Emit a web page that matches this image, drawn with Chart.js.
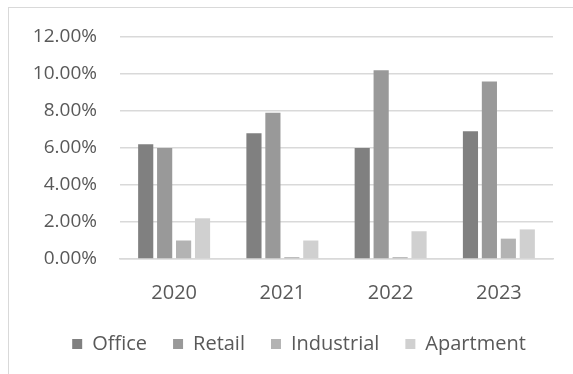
<!DOCTYPE html>
<html>
<head>
<meta charset="utf-8">
<script src="https://cdn.jsdelivr.net/npm/chart.js@4/dist/chart.umd.min.js"></script>
<style>
  html, body { margin: 0; padding: 0; background: #ffffff; }
  #frame {
    position: absolute; left: 8px; top: 7px; width: 565px; height: 367px;
    border-top: 1px solid #d9d9d9; border-left: 1px solid #d9d9d9;
    box-sizing: border-box;
  }
  #wrap { position: absolute; left: 0; top: 0; right: 0; bottom: 0; }
</style>
</head>
<body>
<div id="frame"><div id="wrap"><canvas id="chart"></canvas></div></div>
<script>
// Vacancy rates by property type, per year (percent)
const years = ['2020', '2021', '2022', '2023'];
const office = [6.2, 6.8, 6.0, 6.9];
const retail = [6.0, 7.9, 10.2, 9.6];
const industrial = [1.0, 0.1, 0.1, 1.1];
const apartment = [2.2, 1.0, 1.5, 1.6];
const seriesNames = ['Office', 'Retail', 'Industrial', 'Apartment'];
const seriesColors = ['#808080', '#999999', '#b3b3b3', '#d0d0d0'];

const values = [office, retail, industrial, apartment];
const textColor = '#595959';
const fontFamily = '"Open Sans", "Noto Sans", sans-serif';

// Nudge the legend row to the right so it sits centred under the whole frame
const legendShift = {
  id: 'legendShift',
  afterLayout(chart) {
    const lg = chart.legend;
    if (lg) { lg.left += 18; lg.right += 18; }
  }
};

new Chart(document.getElementById('chart'), {
  type: 'bar',
  data: {
    labels: years,
    datasets: values.map((v, i) => ({
      label: seriesNames[i],
      data: v,
      backgroundColor: seriesColors[i],
      borderWidth: 0,
      categoryPercentage: 0.7,
      barPercentage: 0.8
    }))
  },
  plugins: [legendShift],
  options: {
    responsive: true,
    maintainAspectRatio: false,
    animation: false,
    layout: {
      autoPadding: false,
      padding: { left: 0, right: 20, top: 29, bottom: 10 }
    },
    plugins: {
      legend: {
        position: 'bottom',
        labels: {
          color: textColor,
          font: { family: fontFamily, size: 20 },
          boxWidth: 10,
          boxHeight: 10,
          padding: 26
        }
      },
      tooltip: { enabled: false }
    },
    scales: {
      x: {
        grid: { display: false },
        border: { color: '#d9d9d9', width: 1.5 },
        ticks: { color: textColor, font: { family: fontFamily, size: 20 }, padding: 14 },
        // tighten the band between the year labels and the legend
        afterFit: scale => { scale.height -= 11; }
      },
      y: {
        min: 0,
        max: 12,
        ticks: {
          stepSize: 2,
          color: textColor,
          font: { family: fontFamily, size: 19 },
          padding: 23,
          callback: v => v.toFixed(2) + '%'
        },
        // fixed label column; the label gap should not push the top gridline down
        afterFit: scale => { scale.width = 111; scale.paddingTop = 0; },
        grid: { color: '#d9d9d9', lineWidth: 1.5, drawTicks: false },
        border: { display: false }
      }
    }
  }
});
</script>
</body>
</html>
